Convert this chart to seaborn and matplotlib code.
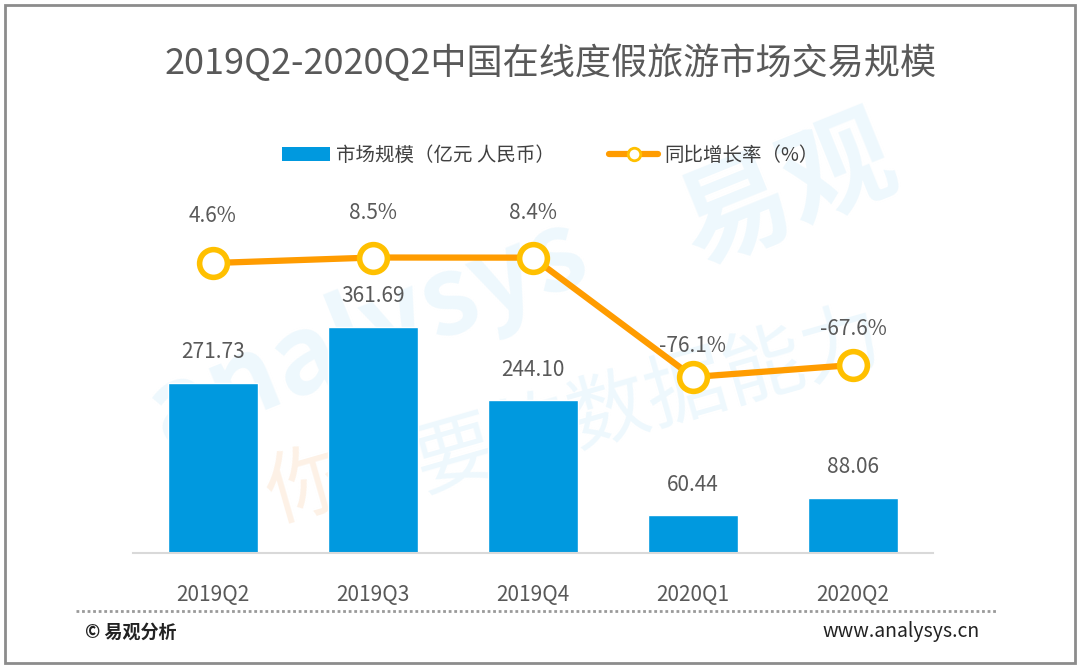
import numpy as np
import pandas as pd
import matplotlib
matplotlib.use("Agg")
import matplotlib.pyplot as plt
import seaborn as sns
from matplotlib.patches import Patch, Rectangle
from matplotlib.lines import Line2D

# data
quarters = ["2019Q2", "2019Q3", "2019Q4", "2020Q1", "2020Q2"]
market_size = [271.73, 361.69, 244.10, 60.44, 88.06]
growth_rate = [4.6, 8.5, 8.4, -76.1, -67.6]
size_labels = ["271.73", "361.69", "244.10", "60.44", "88.06"]
rate_labels = ["4.6%", "8.5%", "8.4%", "-76.1%", "-67.6%"]

df = pd.DataFrame({"quarter": quarters, "size": market_size, "rate": growth_rate})

sns.set_theme(style="white")
plt.rcParams["font.family"] = ["Noto Sans CJK SC", "DejaVu Sans"]

blue = "#0099df"
orange = "#ff9c00"
gold = "#ffc000"
grey_txt = "#595959"

fig = plt.figure(figsize=(10.8, 6.68), dpi=100)
fig.patch.set_facecolor("white")

# faint watermark behind everything
wm = "#eef8fd"
fig.text(0.34, 0.50, "analysys", fontsize=78, color=wm, rotation=22,
         ha="center", va="center", style="italic", fontweight="bold", zorder=-5)
fig.text(0.73, 0.71, "易观", fontsize=80, color=wm, rotation=22,
         ha="center", va="center", fontweight="bold", zorder=-5)
fig.text(0.60, 0.40, "要的数据能力", fontsize=58, color=wm, rotation=16,
         ha="center", va="center", zorder=-5)
fig.text(0.285, 0.27, "你", fontsize=58, color="#fdf1e6", rotation=16,
         ha="center", va="center", zorder=-5)

ax = fig.add_axes([133 / 1080, 115 / 668, 800 / 1080, 363 / 668])
ax.patch.set_visible(False)

sns.barplot(data=df, x="quarter", y="size", color=blue, width=0.56,
            saturation=1, ax=ax, zorder=2)
ax.set_xlim(-0.5, 4.5)
ax.set_ylim(0, 580)
ax.set_xlabel("")
ax.set_ylabel("")
ax.set_yticks([])
for s in ["top", "left", "right"]:
    ax.spines[s].set_visible(False)
ax.spines["bottom"].set_color("#d9d9d9")
ax.spines["bottom"].set_linewidth(1.5)
ax.tick_params(axis="x", length=0, pad=22, labelsize=15, labelcolor=grey_txt)

for i, v in enumerate(market_size):
    ax.annotate(size_labels[i], (i, v), xytext=(0, 22), textcoords="offset points",
                ha="center", va="center", fontsize=15, color=grey_txt)

ax2 = ax.twinx()
ax2.patch.set_visible(False)
sns.lineplot(x=np.arange(len(quarters)), y=growth_rate, ax=ax2, color=orange,
             linewidth=4.5, marker="o", markersize=20, markerfacecolor="white",
             markeredgecolor=gold, markeredgewidth=4, zorder=3)
ax2.set_ylim(-200.7, 56.3)
ax2.set_yticks([])
ax2.set_ylabel("")
for s in ax2.spines.values():
    s.set_visible(False)

rate_offsets = [34, 32, 32, 22, 26]
for i, v in enumerate(growth_rate):
    ax2.annotate(rate_labels[i], (i, v), xytext=(0, rate_offsets[i]), textcoords="offset points",
                 ha="center", va="center", fontsize=15, color=grey_txt)

# title
fig.text(551 / 1080, 1 - 63 / 668, "2019Q2-2020Q2中国在线度假旅游市场交易规模",
         ha="center", va="center", fontsize=26, color=grey_txt)

# legend
handles = [
    Patch(facecolor=blue, edgecolor="none"),
    Line2D([0], [0], color=orange, linewidth=4.5, marker="o", markersize=9,
           markerfacecolor="white", markeredgecolor=gold, markeredgewidth=2),
]
fig.legend(handles, ["市场规模（亿元 人民币）", "同比增长率（%）"], loc="center",
           bbox_to_anchor=(550 / 1080, 1 - 155 / 668), ncol=2, frameon=False,
           fontsize=14, handlelength=2.5, handletextpad=0.3, columnspacing=2.8,
           labelcolor="#404040")

# footer
fig.add_artist(Line2D([76 / 1080, 998 / 1080], [1 - 611 / 668, 1 - 611 / 668],
                      color="#9a9a9a", linewidth=2, linestyle=(0, (1, 1))))
fig.text(85 / 1080, 1 - 632 / 668, "© 易观分析", ha="left", va="center",
         fontsize=13, color="#222222", fontweight="bold")
fig.text(980 / 1080, 1 - 632 / 668, "www.analysys.cn", ha="right", va="center",
         fontsize=14, color="#222222")

# outer border
fig.add_artist(Rectangle((5 / 1080, 5 / 668), 1070 / 1080, 658 / 668,
                         fill=False, edgecolor="#8c8c8c", linewidth=2,
                         transform=fig.transFigure))

fig.savefig("out.png", dpi=100)
